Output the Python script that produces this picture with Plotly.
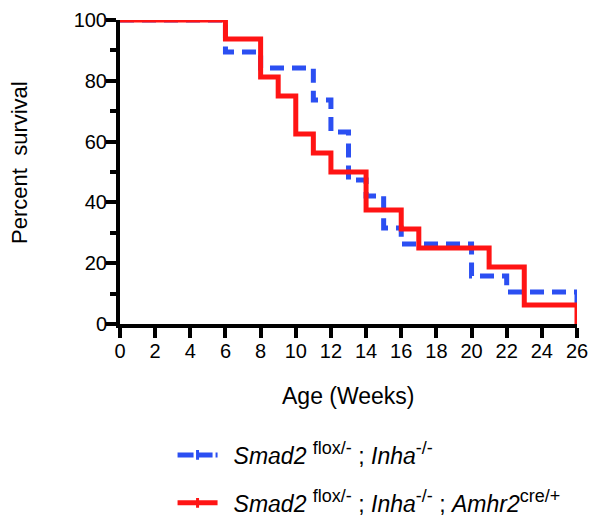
import plotly.graph_objects as go

# Kaplan-Meier survival data (weeks, percent survival)
blue_weeks = [0, 6, 8, 11, 12, 13, 14, 15, 16, 20, 22, 26]
blue_surv = [100, 89.47, 84.21, 73.68, 63.16, 47.37, 42.11, 31.58, 26.32, 15.79, 10.53, 5.26]

red_weeks = [0, 6, 8, 9, 10, 11, 12, 14, 16, 17, 21, 23, 26]
red_surv = [100, 93.75, 81.25, 75, 62.5, 56.25, 50, 37.5, 31.25, 25, 18.75, 6.25, 0]

x_ticks = list(range(0, 27, 2))
y_ticks = [0, 20, 40, 60, 80, 100]
y_minor = [10, 30, 50, 70, 90]


def sup(t):
    return "<sup><span style='font-size:18px'>" + t + "</span></sup>"


PAD = "\u00a0\u2009"
blue_name = PAD + "<i>Smad2</i> " + sup("flox/-") + " ; <i>Inha</i>" + sup("-/-")
red_name = (PAD + "<i>Smad2</i> " + sup("flox/-") + " ; <i>Inha</i>" + sup("-/-")
            + " ; <i>Amhr2</i>" + sup("cre/+"))

BLUE = "#2b4ff2"
RED = "#ff1414"

fig = go.Figure()
fig.add_trace(go.Scatter(x=blue_weeks, y=blue_surv, mode="lines",
                         line=dict(shape="hv", color=BLUE, width=5, dash="14px,8px"),
                         cliponaxis=False, showlegend=False))
fig.add_trace(go.Scatter(x=red_weeks, y=red_surv, mode="lines",
                         line=dict(shape="hv", color=RED, width=5),
                         cliponaxis=False, showlegend=False))
# legend-only entries with censor tick marks
fig.add_trace(go.Scatter(x=[None], y=[None], mode="lines+markers", name=blue_name,
                         legendgroup="a",
                         line=dict(color=BLUE, width=5, dash="16px,3px"),
                         marker=dict(symbol="line-ns-open", size=7, line=dict(color=BLUE, width=3))))
fig.add_trace(go.Scatter(x=[None], y=[None], mode="lines+markers", name=red_name,
                         legendgroup="b",
                         line=dict(color=RED, width=5),
                         marker=dict(symbol="line-ns-open", size=7, line=dict(color=RED, width=3))))

font_family = "Liberation Sans, Arial, sans-serif"

fig.update_layout(
    width=600, height=524,
    margin=dict(l=120, r=23, t=20, b=200, autoexpand=False),
    plot_bgcolor="white", paper_bgcolor="white",
    font=dict(family=font_family, color="black"),
    xaxis=dict(range=[0, 26], tickvals=x_ticks, ticks="outside", ticklen=10, tickwidth=4,
               showline=True, linewidth=4, linecolor="black", tickcolor="black",
               showgrid=False, zeroline=False, tickfont=dict(size=20), automargin=False,
               ticklabelstandoff=-4),
    yaxis=dict(range=[0, 100], tickvals=y_ticks, ticks="outside", ticklen=10, tickwidth=4,
               showline=True, linewidth=4, linecolor="black", tickcolor="black",
               showgrid=False, zeroline=False, tickfont=dict(size=20), automargin=False,
               ticklabelstandoff=-5,
               minor=dict(tickvals=y_minor, ticks="outside", ticklen=6, tickwidth=4,
                          tickcolor="black", showgrid=False)),
    annotations=[
        dict(text="Age (Weeks)", xref="paper", yref="paper", x=0.499, y=-0.237,
             xanchor="center", yanchor="middle", showarrow=False, font=dict(size=23)),
        dict(text="Percent  survival", xref="paper", yref="paper", x=-0.219, y=0.533,
             xanchor="center", yanchor="middle", textangle=-90, showarrow=False,
             font=dict(size=22)),
    ],
    showlegend=True,
    legend=dict(x=0.115, y=-0.36, xanchor="left", yanchor="top", font=dict(size=23),
                bgcolor="rgba(0,0,0,0)", tracegroupgap=15, itemwidth=40),
)

fig.write_html("out.html", post_script="document.body.style.margin='0';",
               config={"displayModeBar": False})
